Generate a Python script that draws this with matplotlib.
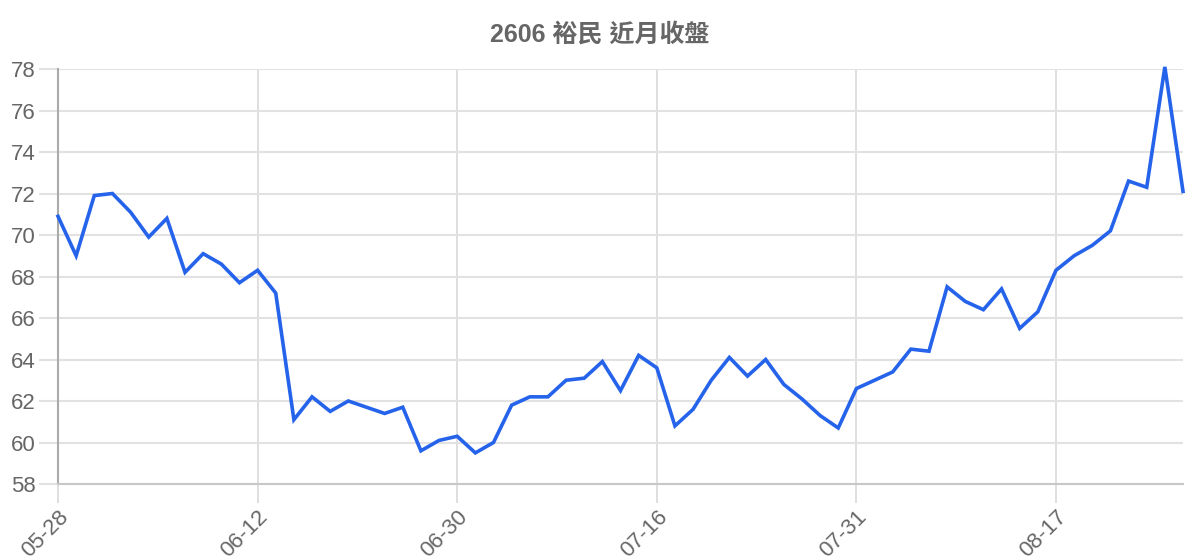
import matplotlib
matplotlib.use("Agg")
import matplotlib.pyplot as plt

title = "2606 裕民 近月收盤"
closes = [70.9, 69.0, 71.9, 72.0, 71.1, 69.9, 70.8, 68.2, 69.1, 68.6, 67.7, 68.3,
          67.2, 61.1, 62.2, 61.5, 62.0, 61.7, 61.4, 61.7, 59.6, 60.1, 60.3, 59.5,
          60.0, 61.8, 62.2, 62.2, 63.0, 63.1, 63.9, 62.5, 64.2, 63.6, 60.8, 61.6,
          63.0, 64.1, 63.2, 64.0, 62.8, 62.1, 61.3, 60.7, 62.6, 63.0, 63.4, 64.5,
          64.4, 67.5, 66.8, 66.4, 67.4, 65.5, 66.3, 68.3, 69.0, 69.5, 70.2, 72.6,
          72.3, 78.1, 72.1]
tick_labels = ["05-28", "06-12", "06-30", "07-16", "07-31", "08-17"]
tick_every = 11
y_ticks = [58, 60, 62, 64, 66, 68, 70, 72, 74, 76, 78]

plt.rcParams['font.family'] = ['Liberation Sans', 'Noto Sans CJK TC', 'DejaVu Sans']

fig = plt.figure(figsize=(12, 5.6), dpi=100)
ax = fig.add_axes([58 / 1200, 76 / 560, 1125 / 1200, 415 / 560])

x = list(range(len(closes)))
ax.plot(x, closes, color="#2563eb", linewidth=2.6, clip_on=False, zorder=3,
        solid_joinstyle="miter")

ax.set_xlim(0, len(closes) - 1)
ax.set_ylim(y_ticks[0], y_ticks[-1])
ax.set_yticks(y_ticks)
ax.set_xticks(x[::tick_every])
ax.set_xticklabels(tick_labels, rotation=45, ha="right", va="top",
                   rotation_mode="anchor")

ax.grid(axis="y", color="#e2e2e2", linewidth=1.5)
ax.grid(axis="x", color="#dcdcdc", linewidth=1.3)
ax.set_axisbelow(True)

for s in ["top", "right"]:
    ax.spines[s].set_visible(False)
ax.spines["left"].set_color("#aaaaaa")
ax.spines["left"].set_linewidth(1.5)
ax.spines["bottom"].set_color("#c8c8c8")
ax.spines["bottom"].set_linewidth(1.5)

ax.tick_params(axis="y", length=14, width=1.5, color="#e2e2e2",
               labelsize=16, labelcolor="#666666", pad=2)
ax.tick_params(axis="x", length=14, width=1.3, color="#dcdcdc",
               labelsize=16, labelcolor="#666666", pad=2)

fig.text(0.5, 1 - 35 / 560, title, ha="center", va="center",
         fontsize=18, fontweight="bold", color="#666666")

fig.savefig("out.png", dpi=100)
